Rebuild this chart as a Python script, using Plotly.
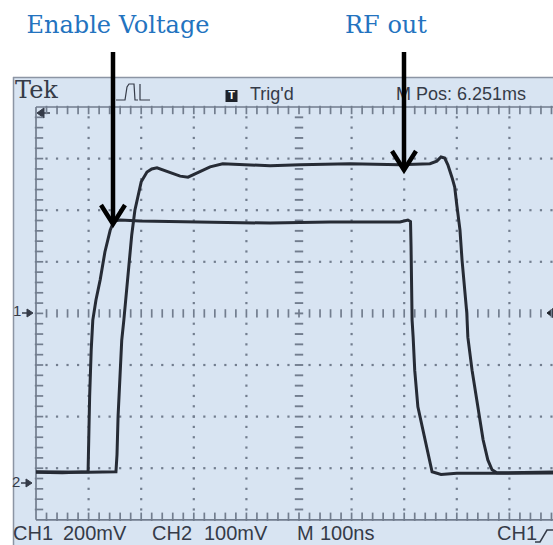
import numpy as np
import plotly.graph_objects as go

# ---------------- data ----------------
# time in ns from the left edge of the graticule (100 ns/div), amplitude in screen divisions
enable_time_ns = [0, 50, 99, 100, 102, 105, 108, 114, 122, 131, 141, 148, 160, 198, 312, 445,
                  559, 692, 707, 712, 713, 714, 715, 717, 720, 726, 734, 743, 753, 770, 800, 880, 1000]
enable_div = [-3.08, -3.09, -3.07, -2.45, -1.6, -0.7, -0.13, 0.26, 0.65, 1.19, 1.61, 1.79, 1.81, 1.79,
              1.77, 1.75, 1.77, 1.77, 1.81, 1.78, 1.3, 0.6, -0.13, -0.46, -1.1, -1.81, -2.2, -2.65,
              -3.07, -3.12, -3.1, -3.1, -3.09]

rf_time_ns = [0, 100, 152, 154, 156, 160, 163, 167, 175, 182, 188, 194, 200, 211, 220, 230, 241, 255,
              274, 289, 306, 331, 355, 388, 445, 502, 597, 692, 749, 762, 770, 777, 783, 791, 796, 800,
              806, 810, 815, 819, 821, 829, 838, 844, 850, 859, 867, 876, 1000]
rf_div = [-3.07, -3.08, -3.07, -2.74, -2.0, -1.0, -0.52, -0.13, 0.84, 1.52, 2.0, 2.29, 2.55, 2.74, 2.80,
          2.82, 2.78, 2.72, 2.66, 2.64, 2.72, 2.84, 2.90, 2.88, 2.86, 2.88, 2.90, 2.88, 2.90, 2.95, 3.03,
          3.01, 2.88, 2.63, 2.45, 2.10, 1.62, 1.03, 0.51, 0.01, -0.46, -1.10, -1.68, -2.07, -2.45, -2.84,
          -3.03, -3.09, -3.07]

label_enable = "Enable Voltage"
label_rf = "RF out"
status_top = {"brand": "Tek", "trig": "Trig'd", "pos": "M Pos: 6.251ms"}
status_bottom = ["CH1", "200mV", "CH2", "100mV", "M", "100ns", "CH1"]
channel_markers = ["1", "2"]

# ---------------- geometry ----------------
W, H = 553, 545
GX0, DXP = 36.0, 52.6    # px of left graticule edge, px per horizontal division
GY0, DYP = 313.4, 51.6   # px of centre line, px per vertical division
NS_PER_DIV = 100


def X(px):
    return (px - GX0) / DXP * NS_PER_DIV


def Y(py):
    return (GY0 - py) / DYP


SCREEN = "#d8e4f2"
GRID = "#727d8e"
INK = "#353b48"
TRACE = "#262b35"
BLUE = "#2373bf"
LCD = "Liberation Sans, Arial, sans-serif"
SERIF = "DejaVu Serif, serif"

fig = go.Figure()

# ---------------- graticule ----------------
steps = np.round(np.arange(0.2, 10.0, 0.2), 4)          # horizontal sub-division positions (div)
vsteps = np.round(np.arange(-3.8, 4.0, 0.2), 4)         # vertical sub-division positions (div)

dot_x, dot_y = [], []
for gx in [1, 2, 3, 4, 6, 7, 8, 9]:
    for v in vsteps:
        if abs(v) > 1e-6:
            dot_x.append(gx * NS_PER_DIV)
            dot_y.append(v)
for gy in [-3, -2, -1, 1, 2, 3]:
    for s in steps:
        if abs(s - 5) > 1e-6:
            dot_x.append(s * NS_PER_DIV)
            dot_y.append(gy)
fig.add_trace(go.Scatter(x=dot_x, y=dot_y, mode="markers", hoverinfo="skip", showlegend=False,
                         marker=dict(symbol="square", size=2.2, color=GRID, line=dict(width=0))))

tick_style = dict(size=6, color=GRID, line=dict(width=1.7, color=GRID))
# centre horizontal line ticks
fig.add_trace(go.Scatter(x=steps * NS_PER_DIV, y=[0] * len(steps), mode="markers", hoverinfo="skip",
                         showlegend=False, marker=dict(symbol="line-ns", **tick_style)))
# centre vertical line dashes
fig.add_trace(go.Scatter(x=[5 * NS_PER_DIV] * len(vsteps), y=vsteps, mode="markers", hoverinfo="skip",
                         showlegend=False, marker=dict(symbol="line-ew", size=6, color=GRID,
                                                       line=dict(width=1.9, color=GRID))))
# rulers (top, bottom, left)
fig.add_trace(go.Scatter(x=steps * NS_PER_DIV, y=[4 - 3 / DYP] * len(steps), mode="markers",
                         hoverinfo="skip", showlegend=False, marker=dict(symbol="line-ns", **tick_style)))
fig.add_trace(go.Scatter(x=steps * NS_PER_DIV, y=[-4 + 3 / DYP] * len(steps), mode="markers",
                         hoverinfo="skip", showlegend=False, marker=dict(symbol="line-ns", **tick_style)))
fig.add_trace(go.Scatter(x=[3 / DXP * NS_PER_DIV] * len(vsteps), y=vsteps, mode="markers",
                         hoverinfo="skip", showlegend=False, marker=dict(symbol="line-ew", **tick_style)))

# ---------------- waveforms ----------------
fig.add_trace(go.Scatter(x=enable_time_ns, y=enable_div, mode="lines", name="Enable Voltage",
                         line=dict(color=TRACE, width=3), hoverinfo="skip", showlegend=False))
fig.add_trace(go.Scatter(x=rf_time_ns, y=rf_div, mode="lines", name="RF out",
                         line=dict(color=TRACE, width=3), hoverinfo="skip", showlegend=False))


# ---------------- texts ----------------
def txt(px, py, s, size, color, family, pos="middle right", weight="normal"):
    fig.add_trace(go.Scatter(x=[X(px)], y=[Y(py)], mode="text", text=[s], textposition=pos,
                             textfont=dict(size=size, color=color, family=family, weight=weight),
                             hoverinfo="skip", showlegend=False, cliponaxis=False))


txt(118, 27, label_enable, 24, BLUE, SERIF, "middle center")
txt(386, 27, label_rf, 24, BLUE, SERIF, "middle center")

txt(15, 92, status_top["brand"], 24, INK, SERIF)
txt(250, 95, status_top["trig"], 18, INK, LCD)
txt(396, 95, status_top["pos"], 18, INK, LCD)
txt(231.5, 96, "T", 11, "white", LCD, "middle center", "bold")

bottom_px = [13, 63, 152, 204, 297, 320, 497]
for px, s in zip(bottom_px, status_bottom):
    txt(px, 535, s, 20, INK, LCD)

txt(13, 312, channel_markers[0], 15, INK, LCD)
txt(12, 483, channel_markers[1], 15, INK, LCD)


# ---------------- shapes ----------------
def path(points, close=False):
    d = "M " + " L ".join(f"{X(px):.3f},{Y(py):.3f}" for px, py in points)
    return d + (" Z" if close else "")


shapes = [
    # screen
    dict(type="rect", xref="x", yref="y", x0=X(13), x1=X(W + 5), y0=Y(H + 5), y1=Y(77),
         fillcolor=SCREEN, line=dict(width=0), layer="below"),
    dict(type="line", xref="x", yref="y", x0=X(13), x1=X(W + 5), y0=Y(77.5), y1=Y(77.5),
         line=dict(color="#8c95a4", width=1.5), layer="below"),
    dict(type="line", xref="x", yref="y", x0=X(13.5), x1=X(13.5), y0=Y(77), y1=Y(H + 5),
         line=dict(color="#8c95a4", width=1.5), layer="below"),
    # rulers
    dict(type="line", xref="x", yref="y", x0=0, x1=10 * NS_PER_DIV, y0=4, y1=4,
         line=dict(color=GRID, width=1.7), layer="below"),
    dict(type="line", xref="x", yref="y", x0=0, x1=10 * NS_PER_DIV, y0=-4, y1=-4,
         line=dict(color=GRID, width=1.7), layer="below"),
    dict(type="line", xref="x", yref="y", x0=0, x1=0, y0=-4, y1=4,
         line=dict(color=GRID, width=1.7), layer="below"),
    # Trig'd box
    dict(type="rect", xref="x", yref="y", x0=X(225.5), x1=X(237.5), y0=Y(102), y1=Y(90),
         fillcolor="#1e222a", line=dict(width=0), layer="below"),
    # acquisition icon
    dict(type="path", xref="x", yref="y",
         path=path([(116, 100), (125, 100), (127, 87), (129, 84), (134, 84), (135, 100), (138, 100)]),
         line=dict(color=INK, width=1.2), layer="below"),
    dict(type="path", xref="x", yref="y", path=path([(140, 84), (140, 100), (150, 100)]),
         line=dict(color=INK, width=1.2), layer="below"),
    # channel ground markers
    dict(type="path", xref="x", yref="y", path=path([(27, 309), (33, 313), (27, 317)], True),
         fillcolor=INK, line=dict(color=INK, width=1), layer="below"),
    dict(type="line", xref="x", yref="y", x0=X(22), x1=X(28), y0=Y(313), y1=Y(313),
         line=dict(color=INK, width=1.5), layer="below"),
    dict(type="path", xref="x", yref="y", path=path([(26, 479), (32, 483), (26, 487)], True),
         fillcolor=INK, line=dict(color=INK, width=1), layer="below"),
    dict(type="line", xref="x", yref="y", x0=X(21), x1=X(27), y0=Y(483), y1=Y(483),
         line=dict(color=INK, width=1.5), layer="below"),
    # trigger position marker (top left)
    dict(type="path", xref="x", yref="y", path=path([(37, 113), (44, 108), (44, 118)], True),
         fillcolor=INK, line=dict(color=INK, width=1), layer="below"),
    dict(type="line", xref="x", yref="y", x0=X(43), x1=X(50), y0=Y(113), y1=Y(113),
         line=dict(color=INK, width=1.5), layer="below"),
    # trigger level marker (right edge)
    dict(type="path", xref="x", yref="y", path=path([(547, 313), (555, 307), (555, 319)], True),
         fillcolor="#1e222a", line=dict(color="#1e222a", width=1), layer="below"),
    # rising edge symbol (bottom right)
    dict(type="path", xref="x", yref="y", path=path([(535, 542), (540, 542), (547, 530), (556, 530)]),
         line=dict(color=INK, width=1.5), layer="below"),
    # callout arrows
    dict(type="line", xref="x", yref="y", x0=X(113), x1=X(113), y0=Y(52), y1=Y(222),
         line=dict(color="black", width=4.5), layer="above"),
    dict(type="path", xref="x", yref="y", path=path([(101, 205), (113, 224), (125, 205)]),
         line=dict(color="black", width=4.5), layer="above"),
    dict(type="line", xref="x", yref="y", x0=X(404), x1=X(404), y0=Y(52), y1=Y(168),
         line=dict(color="black", width=4.5), layer="above"),
    dict(type="path", xref="x", yref="y", path=path([(392, 151), (404, 170), (416, 151)]),
         line=dict(color="black", width=4.5), layer="above"),
]

fig.update_layout(
    width=W, height=H, margin=dict(l=0, r=0, t=0, b=0),
    paper_bgcolor="white", plot_bgcolor="white",
    xaxis=dict(range=[X(0), X(W)], visible=False, fixedrange=True),
    yaxis=dict(range=[Y(H), Y(0)], visible=False, fixedrange=True),
    shapes=shapes, showlegend=False,
)

fig.write_html("out.html")
